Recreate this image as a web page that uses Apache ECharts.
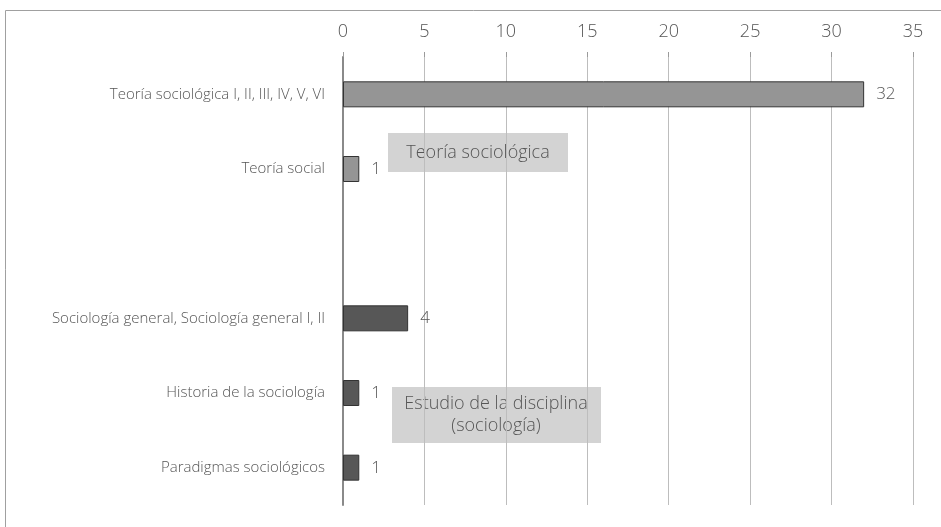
<!DOCTYPE html>
<html>
<head>
<meta charset="utf-8">
<script src="https://cdn.jsdelivr.net/npm/echarts@6/dist/echarts.min.js"></script>
<style>
  html, body { margin: 0; padding: 0; background: #fff; }
  #chart { width: 941px; height: 527px; }
</style>
</head>
<body>
<div id="chart"></div>
<script>
// categorías (la vacía separa los dos grupos)
const categories = [
  "Teoría sociológica I, II, III, IV, V, VI",
  "Teoría social",
  "",
  "Sociología general, Sociología general I, II",
  "Historia de la sociología",
  "Paradigmas sociológicos"
];
const values = [32, 1, null, 4, 1, 1];
// 0 = Teoría sociológica, 1 = Estudio de la disciplina
const groups = [0, 0, null, 1, 1, 1];
const groupNames = ["Teoría sociológica", "Estudio de la disciplina\n(sociología)"];
const xTicks = [0, 5, 10, 15, 20, 25, 30, 35];

const groupColors = ["#959595", "#575757"];
const font = "'Open Sans', sans-serif";

const chart = echarts.init(document.getElementById("chart"));

const option = {
  animation: false,
  grid: { left: 343, right: 28, top: 57, bottom: 22 },
  xAxis: {
    type: "value",
    position: "top",
    min: xTicks[0],
    max: xTicks[xTicks.length - 1],
    interval: 5,
    axisLine: { show: false },
    axisTick: { show: true, length: 5, lineStyle: { color: "#9a9a9a" } },
    axisLabel: { color: "#555", fontSize: 18, fontWeight: 300, fontFamily: font, margin: 16 },
    splitLine: { show: true, lineStyle: { color: "#bdbdbd", width: 1 } }
  },
  yAxis: {
    type: "category",
    inverse: true,
    data: categories,
    axisLine: { show: true, lineStyle: { color: "#8a8a8a", width: 2 } },
    axisTick: { show: false },
    axisLabel: { color: "#555", fontSize: 15, fontWeight: 300, fontFamily: font, margin: 18 }
  },
  series: [{
    type: "bar",
    barWidth: 26,
    data: values.map((v, i) => ({
      value: v === null ? "-" : v,
      itemStyle: {
        color: groups[i] === null ? "transparent" : groupColors[groups[i]],
        borderColor: "#333",
        borderWidth: 1
      }
    })),
    label: {
      show: true,
      position: "right",
      distance: 12,
      color: "#555",
      fontSize: 17,
      fontWeight: 300,
      fontFamily: font
    }
  }],
  graphic: [
    {
      type: "rect",
      left: 3, top: 8,
      shape: { width: 960, height: 560 },
      style: { fill: "none", stroke: "#a0a0a0", lineWidth: 1 },
      silent: true
    },
    {
      type: "group",
      left: 388, top: 133,
      children: [
        { type: "rect", shape: { width: 180, height: 39 }, style: { fill: "#d3d3d3" } },
        {
          type: "text",
          x: 90, y: 20,
          style: { text: groupNames[0], fill: "#555", font: "300 18px " + font, align: "center", verticalAlign: "middle" }
        }
      ]
    },
    {
      type: "group",
      left: 392, top: 387,
      children: [
        { type: "rect", shape: { width: 209, height: 56 }, style: { fill: "#d3d3d3" } },
        {
          type: "text",
          x: 104, y: 28,
          style: { text: groupNames[1], fill: "#555", font: "300 18px " + font, align: "center", verticalAlign: "middle", lineHeight: 22 }
        }
      ]
    }
  ]
};

chart.setOption(option);
</script>
</body>
</html>
